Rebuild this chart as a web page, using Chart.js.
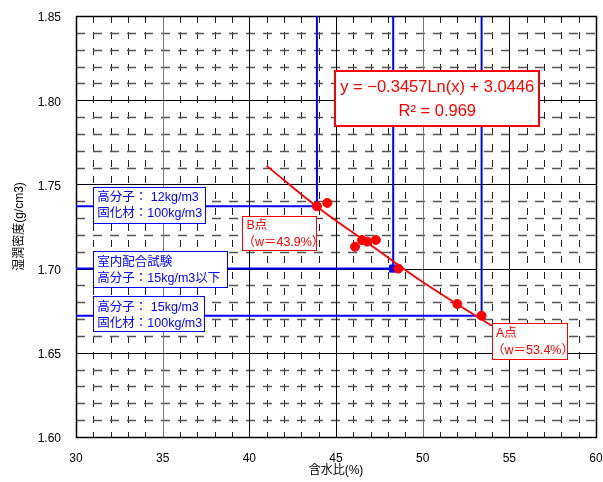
<!DOCTYPE html>
<html>
<head>
<meta charset="utf-8">
<script src="https://cdn.jsdelivr.net/npm/chart.js@4"></script>
<style>
  html, body { margin: 0; padding: 0; background: #fff; }
  #wrap { width: 603px; height: 482px; position: relative; }
</style>
</head>
<body>
<div id="wrap"><canvas id="c"></canvas></div>
<script>
// ---- data ----
const waterContent = [43.9, 44.5, 46.1, 46.5, 46.8, 47.3, 48.6, 52.0, 53.4];
const wetDensity   = [1.737, 1.739, 1.713, 1.717, 1.716, 1.717, 1.700, 1.679, 1.672];

const trendX = [41, 44, 47, 50, 54];
const trendY = [1.761, 1.736, 1.714, 1.692, 1.666];

const guideX = [43.9, 48.3, 53.4];
const guideY = [1.737, 1.700, 1.672];

const labPointX = [48.3];
const labPointY = [1.700];

const xTicks = [30, 35, 40, 45, 50, 55, 60];
const yTicks = [1.60, 1.65, 1.70, 1.75, 1.80, 1.85];

const xTitle = '含水比(%)';
const yTitle = '湿潤密度(g/cm3)';

const blueNotes = [
  ['高分子： 12kg/m3', '固化材：100kg/m3'],
  ['室内配合試験', '高分子：15kg/m3以下'],
  ['高分子： 15kg/m3', '固化材：100kg/m3']
];
const redNotes = [
  ['B点', '（w＝43.9%）'],
  ['A点', '（w＝53.4%）']
];
const equationText = ['y = −0.3457Ln(x) + 3.0446', 'R² = 0.969'];

// ---- layout of annotation boxes (anchor in data units, size in px) ----
const blueBoxes = [
  { x: 31.0, y: 1.7486, w: 112, h: 36 },
  { x: 31.0, y: 1.7104, w: 134, h: 36 },
  { x: 31.0, y: 1.6835, w: 111, h: 35 }
];
const redBoxes = [
  { x: 39.6, y: 1.7313, w: 74, h: 34 },
  { x: 54.0, y: 1.6674, w: 75, h: 36 }
];
const eqBox = { x: 44.9, y: 1.8178, w: 204, h: 55 };

const FONT = '"Liberation Sans", Arial, "Noto Sans CJK JP", sans-serif';
const RED = '#ff0000';
const BLUE = '#0000ff';

const toPts = (xs, ys) => xs.map((x, i) => ({ x: x, y: ys[i] }));

const guideDatasets = guideX.map((gx, i) => ({
  type: 'line',
  data: [{ x: gx, y: yTicks[yTicks.length - 1] }, { x: gx, y: guideY[i] }, { x: xTicks[0], y: guideY[i] }],
  borderColor: BLUE,
  borderWidth: 2,
  pointRadius: 0,
  fill: false,
  tension: 0,
  order: 5
}));

const gridPlugin = {
  id: 'grid',
  beforeDatasetsDraw(chart) {
    const { ctx, chartArea: a, scales: { x, y } } = chart;
    ctx.save();
    // minor vertical
    ctx.lineWidth = 1;
    ctx.strokeStyle = '#222';
    ctx.setLineDash([7, 9]);
    for (let v = Math.round(x.min) + 1; v < x.max; v++) {
      if (v % 5 === 0) continue;
      const px = Math.round(x.getPixelForValue(v)) + 0.5;
      ctx.beginPath(); ctx.moveTo(px, a.top); ctx.lineTo(px, a.bottom); ctx.stroke();
    }
    // minor horizontal
    ctx.strokeStyle = '#555';
    ctx.lineWidth = 1.5;
    ctx.setLineDash([9, 8]);
    const lo = Math.round(y.min * 100), hi = Math.round(y.max * 100);
    for (let k = lo + 1; k < hi; k++) {
      if (k % 5 === 0) continue;
      const py = Math.round(y.getPixelForValue(k / 100)) + 0.5;
      ctx.beginPath(); ctx.moveTo(a.left, py); ctx.lineTo(a.right, py); ctx.stroke();
    }
    // major
    ctx.setLineDash([]);
    ctx.lineWidth = 1;
    xTicks.forEach(v => {
      const px = Math.round(x.getPixelForValue(v)) + 0.5;
      ctx.strokeStyle = (v === 35 || v === 50) ? '#777' : '#000';
      ctx.beginPath(); ctx.moveTo(px, a.top); ctx.lineTo(px, a.bottom); ctx.stroke();
    });
    ctx.strokeStyle = '#000';
    yTicks.forEach(v => {
      const py = Math.round(y.getPixelForValue(v)) + 0.5;
      ctx.beginPath(); ctx.moveTo(a.left, py); ctx.lineTo(a.right, py); ctx.stroke();
    });
    ctx.lineWidth = 1.5;
    ctx.strokeRect(Math.round(a.left) + 0.5, Math.round(a.top) + 0.5, Math.round(a.right - a.left), Math.round(a.bottom - a.top));
    ctx.restore();
  }
};

function drawBox(ctx, px, py, w, h, color, lw, lines, fontSize, opts) {
  ctx.save();
  ctx.fillStyle = '#fff';
  ctx.fillRect(px, py, w, h);
  ctx.strokeStyle = color;
  ctx.lineWidth = lw;
  ctx.strokeRect(Math.round(px) + 0.5, Math.round(py) + 0.5, w, h);
  ctx.fillStyle = color;
  ctx.font = fontSize + 'px ' + FONT;
  ctx.textBaseline = 'middle';
  lines.forEach((t, i) => {
    const ly = py + opts.lineY[i];
    ctx.textAlign = 'left';
    ctx.fillText(t, px + opts.padX[i], ly);
  });
  ctx.restore();
}

const notesPlugin = {
  id: 'notes',
  afterDatasetsDraw(chart) {
    const { ctx, scales: { x, y } } = chart;
    blueBoxes.forEach((b, i) => {
      drawBox(ctx, x.getPixelForValue(b.x), y.getPixelForValue(b.y), b.w, b.h, BLUE, 1,
        blueNotes[i], 12.5, { lineY: [11, 27], padX: [4, 4] });
    });
    redBoxes.forEach((b, i) => {
      drawBox(ctx, x.getPixelForValue(b.x), y.getPixelForValue(b.y), b.w, b.h, RED, 1,
        redNotes[i], 12.5, { lineY: [10, 27], padX: [4, 0] });
    });
    const ex = x.getPixelForValue(eqBox.x), ey = y.getPixelForValue(eqBox.y);
    ctx.save();
    ctx.fillStyle = '#fff';
    ctx.fillRect(ex, ey, eqBox.w, eqBox.h);
    ctx.strokeStyle = RED;
    ctx.lineWidth = 2;
    ctx.strokeRect(Math.round(ex) + 1, Math.round(ey) + 1, eqBox.w, eqBox.h);
    ctx.fillStyle = RED;
    ctx.font = '16.5px ' + FONT;
    ctx.textBaseline = 'middle';
    ctx.textAlign = 'center';
    ctx.fillText(equationText[0], ex + eqBox.w / 2 + 1, ey + 17);
    ctx.fillText(equationText[1], ex + eqBox.w / 2 + 1, ey + 41);
    ctx.restore();
  }
};

new Chart(document.getElementById('c'), {
  type: 'scatter',
  data: {
    datasets: [
      {
        label: 'data',
        data: toPts(waterContent, wetDensity),
        backgroundColor: RED,
        borderColor: RED,
        pointRadius: 4.5,
        pointHoverRadius: 4.5,
        order: 1
      },
      {
        type: 'line',
        label: 'trend',
        data: toPts(trendX, trendY),
        borderColor: RED,
        borderWidth: 1.8,
        pointRadius: 0,
        fill: false,
        tension: 0.4,
        order: 2
      },
      {
        label: 'lab',
        data: toPts(labPointX, labPointY),
        pointStyle: 'rect',
        backgroundColor: BLUE,
        borderColor: BLUE,
        pointRadius: 5,
        order: 3
      },
      ...guideDatasets
    ]
  },
  options: {
    responsive: true,
    maintainAspectRatio: false,
    animation: false,
    devicePixelRatio: 1,
    layout: { padding: { left: 0, top: 16, right: 7, bottom: 0 } },
    plugins: { legend: { display: false }, tooltip: { enabled: false } },
    scales: {
      x: {
        type: 'linear',
        min: 30, max: 60,
        afterBuildTicks: s => { s.ticks = xTicks.map(v => ({ value: v })); },
        afterFit: s => { s.height = 45; s.paddingLeft = 0; s.paddingRight = 0; },
        grid: { display: false, drawTicks: false },
        border: { display: false },
        ticks: { color: '#000', padding: 14, font: { family: FONT, size: 12 }, callback: v => String(v) },
        title: { display: true, text: xTitle, color: '#000', padding: { top: 0, bottom: 4 }, font: { family: FONT, size: 12 } }
      },
      y: {
        type: 'linear',
        min: 1.60, max: 1.85,
        afterBuildTicks: s => { s.ticks = yTicks.map(v => ({ value: v })); },
        afterFit: s => { s.width = 76; s.paddingTop = 0; s.paddingBottom = 0; },
        grid: { display: false, drawTicks: false },
        border: { display: false },
        ticks: { color: '#000', padding: 15, labelOffset: 2, font: { family: FONT, size: 12 }, callback: v => Number(v).toFixed(2) },
        title: { display: true, text: yTitle, color: '#000', padding: { top: 12, bottom: 0 }, font: { family: FONT, size: 12 } }
      }
    }
  },
  plugins: [gridPlugin, notesPlugin]
});
</script>
</body>
</html>
